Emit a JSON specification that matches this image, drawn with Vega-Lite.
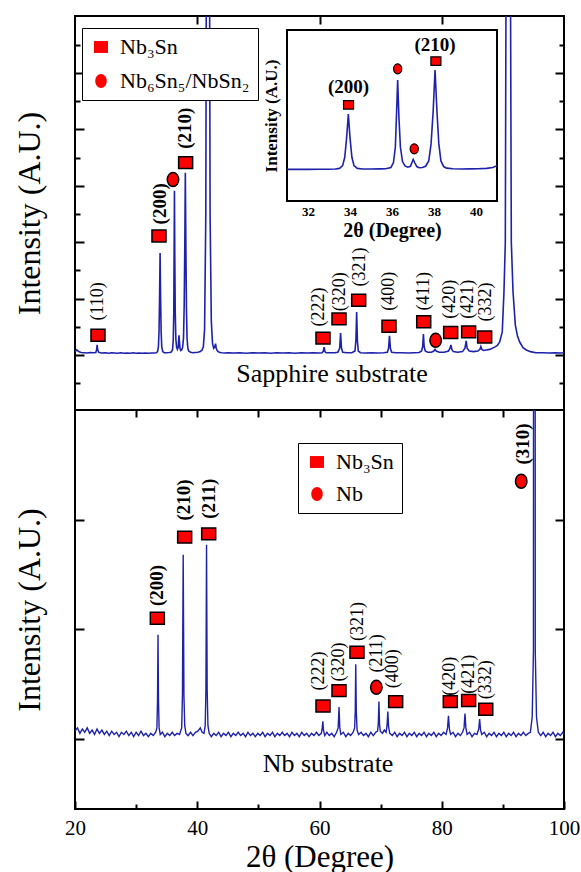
{
"$schema": "https://vega.github.io/schema/vega-lite/v6.json",
"background": "white",
"padding": {"left": 12, "top": 14, "right": 20, "bottom": 5},
"bounds": "flush",
"spacing": 0,
"config": {
  "view": {"stroke": "black", "strokeWidth": 2},
  "axis": {"grid": false, "domain": false, "tickColor": "black", "tickWidth": 2, "labelFont": "Liberation Serif", "titleFont": "Liberation Serif", "labelColor": "black", "titleColor": "black", "titleFontWeight": "normal"},
  "text": {"font": "Liberation Serif", "color": "black"},
  "legend": {"labelFont": "Liberation Serif", "labelColor": "black"}
},
"datasets": {
  "top": [
{"x":20.0,"y":0.06},{"x":20.3,"y":0.09},{"x":20.6,"y":0.06},{"x":21.0,"y":0.045},{"x":21.5,"y":0.04},{"x":22.0,"y":0.035},{"x":22.5,"y":0.045},{"x":23.0,"y":0.04},{"x":23.4,"y":0.045},{"x":23.55,"y":0.10},{"x":23.62,"y":0.18},{"x":23.7,"y":0.10},{"x":23.85,"y":0.05},{"x":24.3,"y":0.035},{"x":25.0,"y":0.04},{"x":25.5,"y":0.03},{"x":26.0,"y":0.04},{"x":26.5,"y":0.035},{"x":27.0,"y":0.03},{"x":27.5,"y":0.04},{"x":28.0,"y":0.03},{"x":28.5,"y":0.035},{"x":29.0,"y":0.03},{"x":29.5,"y":0.04},{"x":30.0,"y":0.03},{"x":30.5,"y":0.035},{"x":31.0,"y":0.03},{"x":31.5,"y":0.035},{"x":32.0,"y":0.03},{"x":32.5,"y":0.035},{"x":33.0,"y":0.035},{"x":33.3,"y":0.04},{"x":33.5,"y":0.06},{"x":33.65,"y":0.15},{"x":33.75,"y":0.42},{"x":33.84,"y":1.05},{"x":33.92,"y":1.81},{"x":34.0,"y":1.05},{"x":34.09,"y":0.42},{"x":34.19,"y":0.15},{"x":34.35,"y":0.06},{"x":34.6,"y":0.04},{"x":35.0,"y":0.04},{"x":35.4,"y":0.045},{"x":35.7,"y":0.05},{"x":35.95,"y":0.09},{"x":36.07,"y":0.25},{"x":36.16,"y":0.75},{"x":36.21,"y":1.7},{"x":36.27,"y":2.91},{"x":36.33,"y":1.7},{"x":36.4,"y":0.75},{"x":36.5,"y":0.28},{"x":36.62,"y":0.14},{"x":36.75,"y":0.10},{"x":36.88,"y":0.13},{"x":36.95,"y":0.25},{"x":37.01,"y":0.35},{"x":37.08,"y":0.25},{"x":37.18,"y":0.12},{"x":37.3,"y":0.08},{"x":37.45,"y":0.09},{"x":37.6,"y":0.13},{"x":37.75,"y":0.30},{"x":37.86,"y":0.85},{"x":37.96,"y":1.9},{"x":38.05,"y":3.23},{"x":38.14,"y":1.9},{"x":38.23,"y":0.85},{"x":38.33,"y":0.30},{"x":38.46,"y":0.12},{"x":38.6,"y":0.07},{"x":38.9,"y":0.05},{"x":39.3,"y":0.04},{"x":39.7,"y":0.045},{"x":40.1,"y":0.05},{"x":40.5,"y":0.06},{"x":40.8,"y":0.09},{"x":41.0,"y":0.15},{"x":41.2,"y":0.45},{"x":41.4,"y":2.5},{"x":41.75,"y":20},{"x":42.1,"y":2.5},{"x":42.3,"y":0.6},{"x":42.5,"y":0.2},{"x":42.7,"y":0.12},{"x":42.85,"y":0.14},{"x":43.0,"y":0.2},{"x":43.1,"y":0.12},{"x":43.3,"y":0.07},{"x":43.6,"y":0.05},{"x":44.0,"y":0.04},{"x":44.5,"y":0.035},{"x":45.0,"y":0.04},{"x":46.0,"y":0.035},{"x":47.0,"y":0.04},{"x":48.0,"y":0.03},{"x":49.0,"y":0.04},{"x":50.0,"y":0.035},{"x":51.0,"y":0.04},{"x":52.0,"y":0.03},{"x":53.0,"y":0.04},{"x":54.0,"y":0.035},{"x":55.0,"y":0.04},{"x":56.0,"y":0.03},{"x":57.0,"y":0.04},{"x":58.0,"y":0.035},{"x":59.0,"y":0.04},{"x":60.0,"y":0.035},{"x":60.4,"y":0.04},{"x":60.6,"y":0.06},{"x":60.75,"y":0.14},{"x":60.9,"y":0.06},{"x":61.1,"y":0.04},{"x":61.8,"y":0.04},{"x":62.5,"y":0.04},{"x":63.0,"y":0.05},{"x":63.3,"y":0.12},{"x":63.45,"y":0.39},{"x":63.6,"y":0.12},{"x":63.8,"y":0.05},{"x":64.5,"y":0.04},{"x":65.3,"y":0.04},{"x":65.8,"y":0.07},{"x":65.95,"y":0.25},{"x":66.08,"y":0.76},{"x":66.2,"y":0.25},{"x":66.35,"y":0.07},{"x":66.7,"y":0.04},{"x":67.5,"y":0.035},{"x":68.5,"y":0.04},{"x":69.5,"y":0.035},{"x":70.5,"y":0.04},{"x":71.1,"y":0.05},{"x":71.3,"y":0.12},{"x":71.45,"y":0.34},{"x":71.6,"y":0.12},{"x":71.8,"y":0.05},{"x":72.5,"y":0.04},{"x":73.5,"y":0.04},{"x":74.5,"y":0.035},{"x":75.5,"y":0.04},{"x":76.3,"y":0.045},{"x":76.7,"y":0.07},{"x":76.88,"y":0.15},{"x":77.0,"y":0.37},{"x":77.12,"y":0.15},{"x":77.3,"y":0.07},{"x":77.7,"y":0.05},{"x":78.3,"y":0.05},{"x":78.7,"y":0.07},{"x":78.9,"y":0.10},{"x":79.1,"y":0.07},{"x":79.6,"y":0.05},{"x":80.4,"y":0.05},{"x":81.1,"y":0.07},{"x":81.35,"y":0.12},{"x":81.5,"y":0.18},{"x":81.65,"y":0.10},{"x":81.9,"y":0.06},{"x":82.6,"y":0.05},{"x":83.4,"y":0.06},{"x":83.8,"y":0.12},{"x":84.0,"y":0.25},{"x":84.15,"y":0.12},{"x":84.5,"y":0.07},{"x":85.2,"y":0.06},{"x":85.9,"y":0.07},{"x":86.25,"y":0.10},{"x":86.4,"y":0.15},{"x":86.55,"y":0.10},{"x":86.8,"y":0.08},{"x":87.3,"y":0.09},{"x":87.84,"y":0.10},{"x":88.66,"y":0.14},{"x":89.1,"y":0.17},{"x":89.48,"y":0.23},{"x":89.9,"y":0.41},{"x":90.18,"y":1.12},{"x":90.4,"y":2.0},{"x":90.85,"y":20},{"x":91.38,"y":2.0},{"x":91.66,"y":1.12},{"x":92.04,"y":0.53},{"x":92.4,"y":0.33},{"x":92.75,"y":0.23},{"x":93.3,"y":0.13},{"x":93.84,"y":0.09},{"x":94.5,"y":0.06},{"x":95.4,"y":0.04},{"x":96.5,"y":0.04},{"x":97.5,"y":0.035},{"x":98.5,"y":0.04},{"x":99.5,"y":0.035},{"x":100.0,"y":0.04}
  ],
  "topMarks": [
{"x":23.76,"y":0.35,"phase":"Nb₃Sn"},{"x":33.74,"y":2.11,"phase":"Nb₃Sn"},{"x":38.1,"y":3.41,"phase":"Nb₃Sn"},{"x":60.57,"y":0.30,"phase":"Nb₃Sn"},{"x":63.19,"y":0.64,"phase":"Nb₃Sn"},{"x":66.41,"y":0.97,"phase":"Nb₃Sn"},{"x":71.37,"y":0.51,"phase":"Nb₃Sn"},{"x":77.05,"y":0.59,"phase":"Nb₃Sn"},{"x":81.46,"y":0.40,"phase":"Nb₃Sn"},{"x":84.4,"y":0.41,"phase":"Nb₃Sn"},{"x":87.02,"y":0.32,"phase":"Nb₃Sn"},
{"x":36.03,"y":3.11,"phase":"Nb₆Sn₅/NbSn₂"},{"x":79.0,"y":0.26,"phase":"Nb₆Sn₅/NbSn₂"}
  ],
  "topLabels": [
{"x":23.76,"y":0.95,"label":"(110)"},{"x":33.85,"y":2.68,"label":"(200)"},{"x":38.05,"y":4.02,"label":"(210)"},{"x":59.9,"y":0.85,"label":"(222)"},{"x":63.3,"y":1.12,"label":"(320)"},{"x":66.68,"y":1.56,"label":"(321)"},{"x":71.37,"y":1.13,"label":"(400)"},{"x":77.1,"y":1.13,"label":"(411)"},{"x":81.3,"y":0.99,"label":"(420)"},{"x":84.3,"y":0.99,"label":"(421)"},{"x":87.2,"y":0.94,"label":"(332)"}
  ],
  "insetMarks": [
{"x":33.93,"y":2.11,"phase":"Nb₃Sn"},{"x":38.09,"y":3.52,"phase":"Nb₃Sn"},{"x":36.27,"y":3.27,"phase":"Nb₆Sn₅/NbSn₂"},{"x":37.06,"y":0.69,"phase":"Nb₆Sn₅/NbSn₂"}
  ],
  "insetLabels": [
{"x":33.93,"y":2.68,"label":"(200)"},{"x":38.05,"y":4.03,"label":"(210)"}
  ],
  "bottom": [
{"x":20.0,"y":0.07},{"x":20.4,"y":0.10},{"x":20.8,"y":0.05},{"x":21.2,"y":0.09},{"x":21.6,"y":0.06},{"x":22.0,"y":0.10},{"x":22.4,"y":0.05},{"x":22.8,"y":0.08},{"x":23.2,"y":0.04},{"x":23.6,"y":0.09},{"x":24.0,"y":0.05},{"x":24.4,"y":0.08},{"x":24.8,"y":0.04},{"x":25.2,"y":0.07},{"x":25.6,"y":0.03},{"x":26.0,"y":0.07},{"x":26.4,"y":0.04},{"x":26.8,"y":0.06},{"x":27.2,"y":0.02},{"x":27.6,"y":0.06},{"x":28.0,"y":0.04},{"x":28.4,"y":0.07},{"x":28.8,"y":0.03},{"x":29.2,"y":0.06},{"x":29.6,"y":0.02},{"x":30.0,"y":0.06},{"x":30.4,"y":0.03},{"x":30.8,"y":0.07},{"x":31.2,"y":0.03},{"x":31.6,"y":0.05},{"x":32.0,"y":0.02},{"x":32.4,"y":0.05},{"x":32.8,"y":0.03},{"x":33.2,"y":0.06},{"x":33.4,"y":0.10},{"x":33.5,"y":0.35},{"x":33.58,"y":0.95},{"x":33.66,"y":0.35},{"x":33.76,"y":0.10},{"x":33.95,"y":0.04},{"x":34.3,"y":0.06},{"x":34.7,"y":0.02},{"x":35.1,"y":0.05},{"x":35.5,"y":0.03},{"x":35.9,"y":0.06},{"x":36.3,"y":0.03},{"x":36.7,"y":0.05},{"x":37.1,"y":0.04},{"x":37.45,"y":0.10},{"x":37.58,"y":0.40},{"x":37.7,"y":1.68},{"x":37.82,"y":0.40},{"x":37.95,"y":0.12},{"x":38.15,"y":0.05},{"x":38.5,"y":0.03},{"x":38.9,"y":0.06},{"x":39.3,"y":0.03},{"x":39.7,"y":0.06},{"x":40.1,"y":0.07},{"x":40.5,"y":0.10},{"x":40.8,"y":0.06},{"x":41.1,"y":0.05},{"x":41.3,"y":0.12},{"x":41.42,"y":0.45},{"x":41.52,"y":1.77},{"x":41.62,"y":0.45},{"x":41.75,"y":0.12},{"x":41.95,"y":0.05},{"x":42.3,"y":0.02},{"x":42.7,"y":0.05},{"x":43.1,"y":0.03},{"x":43.5,"y":0.06},{"x":43.9,"y":0.02},{"x":44.3,"y":0.05},{"x":44.7,"y":0.03},{"x":45.1,"y":0.06},{"x":45.5,"y":0.02},{"x":45.9,"y":0.05},{"x":46.3,"y":0.03},{"x":46.7,"y":0.06},{"x":47.1,"y":0.03},{"x":47.5,"y":0.05},{"x":47.9,"y":0.02},{"x":48.3,"y":0.06},{"x":48.7,"y":0.03},{"x":49.1,"y":0.05},{"x":49.5,"y":0.02},{"x":49.9,"y":0.05},{"x":50.3,"y":0.03},{"x":50.7,"y":0.06},{"x":51.1,"y":0.02},{"x":51.5,"y":0.05},{"x":51.9,"y":0.03},{"x":52.3,"y":0.06},{"x":52.7,"y":0.02},{"x":53.1,"y":0.05},{"x":53.5,"y":0.03},{"x":53.9,"y":0.06},{"x":54.3,"y":0.03},{"x":54.7,"y":0.05},{"x":55.1,"y":0.02},{"x":55.5,"y":0.06},{"x":55.9,"y":0.03},{"x":56.3,"y":0.05},{"x":56.7,"y":0.02},{"x":57.1,"y":0.06},{"x":57.5,"y":0.03},{"x":57.9,"y":0.05},{"x":58.3,"y":0.02},{"x":58.7,"y":0.05},{"x":59.1,"y":0.03},{"x":59.5,"y":0.06},{"x":59.9,"y":0.03},{"x":60.3,"y":0.05},{"x":60.45,"y":0.10},{"x":60.55,"y":0.16},{"x":60.65,"y":0.08},{"x":60.85,"y":0.03},{"x":61.2,"y":0.06},{"x":61.6,"y":0.03},{"x":62.0,"y":0.05},{"x":62.4,"y":0.02},{"x":62.8,"y":0.06},{"x":63.05,"y":0.10},{"x":63.2,"y":0.29},{"x":63.32,"y":0.10},{"x":63.5,"y":0.04},{"x":63.9,"y":0.06},{"x":64.3,"y":0.02},{"x":64.7,"y":0.05},{"x":65.1,"y":0.03},{"x":65.5,"y":0.06},{"x":65.75,"y":0.10},{"x":65.85,"y":0.25},{"x":65.93,"y":0.68},{"x":66.02,"y":0.25},{"x":66.15,"y":0.08},{"x":66.4,"y":0.04},{"x":66.8,"y":0.06},{"x":67.2,"y":0.03},{"x":67.6,"y":0.05},{"x":68.0,"y":0.02},{"x":68.4,"y":0.06},{"x":68.8,"y":0.03},{"x":69.2,"y":0.06},{"x":69.5,"y":0.07},{"x":69.62,"y":0.14},{"x":69.72,"y":0.34},{"x":69.82,"y":0.13},{"x":69.95,"y":0.07},{"x":70.3,"y":0.05},{"x":70.6,"y":0.08},{"x":70.9,"y":0.06},{"x":71.05,"y":0.12},{"x":71.18,"y":0.25},{"x":71.3,"y":0.11},{"x":71.5,"y":0.05},{"x":71.9,"y":0.03},{"x":72.3,"y":0.06},{"x":72.7,"y":0.02},{"x":73.1,"y":0.05},{"x":73.5,"y":0.03},{"x":73.9,"y":0.06},{"x":74.3,"y":0.02},{"x":74.7,"y":0.05},{"x":75.1,"y":0.03},{"x":75.5,"y":0.06},{"x":75.9,"y":0.02},{"x":76.3,"y":0.05},{"x":76.7,"y":0.03},{"x":77.1,"y":0.06},{"x":77.5,"y":0.02},{"x":77.9,"y":0.05},{"x":78.3,"y":0.03},{"x":78.7,"y":0.06},{"x":79.1,"y":0.02},{"x":79.5,"y":0.05},{"x":79.9,"y":0.03},{"x":80.3,"y":0.06},{"x":80.7,"y":0.04},{"x":80.95,"y":0.10},{"x":81.1,"y":0.21},{"x":81.25,"y":0.09},{"x":81.45,"y":0.04},{"x":81.85,"y":0.06},{"x":82.25,"y":0.02},{"x":82.65,"y":0.05},{"x":83.05,"y":0.03},{"x":83.4,"y":0.06},{"x":83.65,"y":0.10},{"x":83.8,"y":0.23},{"x":83.95,"y":0.10},{"x":84.15,"y":0.04},{"x":84.55,"y":0.06},{"x":84.95,"y":0.02},{"x":85.35,"y":0.05},{"x":85.75,"y":0.04},{"x":86.05,"y":0.09},{"x":86.2,"y":0.18},{"x":86.35,"y":0.08},{"x":86.55,"y":0.04},{"x":86.95,"y":0.06},{"x":87.35,"y":0.02},{"x":87.75,"y":0.05},{"x":88.15,"y":0.03},{"x":88.55,"y":0.06},{"x":88.95,"y":0.02},{"x":89.35,"y":0.05},{"x":89.75,"y":0.03},{"x":90.15,"y":0.06},{"x":90.55,"y":0.02},{"x":90.95,"y":0.05},{"x":91.35,"y":0.03},{"x":91.75,"y":0.06},{"x":92.15,"y":0.02},{"x":92.55,"y":0.05},{"x":92.95,"y":0.03},{"x":93.35,"y":0.06},{"x":93.75,"y":0.03},{"x":94.15,"y":0.05},{"x":94.5,"y":0.06},{"x":94.8,"y":0.20},{"x":95.0,"y":0.80},{"x":95.15,"y":30},{"x":95.3,"y":0.80},{"x":95.5,"y":0.20},{"x":95.8,"y":0.06},{"x":96.2,"y":0.03},{"x":96.6,"y":0.06},{"x":97.0,"y":0.02},{"x":97.4,"y":0.05},{"x":97.8,"y":0.03},{"x":98.2,"y":0.06},{"x":98.6,"y":0.02},{"x":99.0,"y":0.05},{"x":99.4,"y":0.03},{"x":99.8,"y":0.06},{"x":100.0,"y":0.04}
  ],
  "bottomMarks": [
{"x":33.47,"y":1.10,"phase":"Nb₃Sn"},{"x":37.94,"y":1.84,"phase":"Nb₃Sn"},{"x":41.87,"y":1.87,"phase":"Nb₃Sn"},{"x":60.57,"y":0.30,"phase":"Nb₃Sn"},{"x":63.19,"y":0.44,"phase":"Nb₃Sn"},{"x":66.13,"y":0.79,"phase":"Nb₃Sn"},{"x":72.46,"y":0.34,"phase":"Nb₃Sn"},{"x":81.4,"y":0.34,"phase":"Nb₃Sn"},{"x":84.4,"y":0.35,"phase":"Nb₃Sn"},{"x":87.2,"y":0.27,"phase":"Nb₃Sn"},
{"x":69.3,"y":0.47,"phase":"Nb"},{"x":93.0,"y":2.35,"phase":"Nb"}
  ],
  "bottomLabels": [
{"x":33.4,"y":1.40,"label":"(200)"},{"x":37.78,"y":2.18,"label":"(210)"},{"x":42.0,"y":2.19,"label":"(211)"},{"x":59.9,"y":0.62,"label":"(222)"},{"x":63.2,"y":0.70,"label":"(320)"},{"x":66.3,"y":1.07,"label":"(321)"},{"x":69.4,"y":0.78,"label":"(211)"},{"x":72.1,"y":0.64,"label":"(400)"},{"x":81.4,"y":0.57,"label":"(420)"},{"x":84.4,"y":0.59,"label":"(421)"},{"x":87.3,"y":0.54,"label":"(332)"},{"x":93.3,"y":2.69,"label":"(310)"}
  ]
},
"resolve": {"scale": {"x": "independent", "y": "independent", "shape": "independent"}, "legend": {"shape": "independent"}},
"vconcat": [
 {
  "width": 489, "height": 394,
  "resolve": {"scale": {"x": "independent", "y": "independent"}, "axis": {"x": "independent", "y": "independent"}},
  "layer": [
   {
    "data": {"name": "top"},
    "mark": {"type": "line", "color": "#1e22aa", "strokeWidth": 1.6, "clip": true},
    "encoding": {
      "x": {"field": "x", "type": "quantitative", "scale": {"domain": [20, 100], "nice": false, "zero": false}, "axis": null},
      "y": {"field": "y", "type": "quantitative", "scale": {"domain": [-0.975, 6.01], "nice": false, "zero": false},
            "axis": {"orient": "left", "values": [0, 1, 2, 3, 4, 5], "tickSize": -9, "labels": false, "title": "Intensity (A.U.)", "titleFontSize": 32, "titlePadding": 28}}
    }
   },
   {
    "data": {"name": "topMarks"},
    "mark": {"type": "point", "filled": true, "fill": "#ff0000", "stroke": "black", "strokeWidth": 1.5, "opacity": 1, "size": 196},
    "encoding": {
      "x": {"field": "x", "type": "quantitative", "scale": {"domain": [20, 100], "nice": false, "zero": false},
            "axis": {"orient": "top", "values": [40, 60, 80], "tickSize": -8, "labels": false, "title": null}},
      "y": {"field": "y", "type": "quantitative", "scale": {"domain": [-0.975, 6.01], "nice": false, "zero": false},
            "axis": {"orient": "right", "values": [0, 1, 2, 3, 4, 5], "tickSize": -9, "labels": false, "title": null}},
      "shape": {"field": "phase", "type": "nominal",
                "scale": {"domain": ["Nb₃Sn", "Nb₆Sn₅/NbSn₂"], "range": ["M-1,-0.85H1V0.85H-1Z", "M0,-1A0.82,1 0 1,1 0,1A0.82,1 0 1,1 0,-1Z"]},
                "legend": {"orient": "none", "legendX": 7, "legendY": 12, "title": null, "labelFontSize": 22, "symbolSize": 196, "symbolFillColor": "#ff0000", "symbolStrokeColor": "black", "symbolStrokeWidth": 1.5, "symbolOpacity": 1, "strokeColor": "black", "fillColor": "white", "padding": 8, "rowPadding": 12, "labelOffset": 8,
                           "encode": {"legend": {"update": {"strokeWidth": {"value": 2}}}}}}
    }
   },
   {
    "data": {"name": "topLabels"},
    "transform": [{"filter": "datum.x < 33 || datum.x > 40"}],
    "mark": {"type": "text", "angle": 270, "align": "center", "baseline": "middle", "fontSize": 18, "font": "Liberation Serif"},
    "encoding": {
      "x": {"field": "x", "type": "quantitative", "scale": {"domain": [20, 100], "nice": false, "zero": false}, "axis": null},
      "y": {"field": "y", "type": "quantitative", "scale": {"domain": [-0.975, 6.01], "nice": false, "zero": false},
            "axis": {"orient": "left", "values": [-0.5, 0.5, 1.5, 2.5, 3.5, 4.5, 5.5], "tickSize": -5, "labels": false, "title": null}},
      "text": {"field": "label"}
    }
   },
   {
    "data": {"name": "topLabels"},
    "transform": [{"filter": "datum.x >= 33 && datum.x <= 40"}],
    "mark": {"type": "text", "angle": 270, "align": "center", "baseline": "middle", "fontSize": 19, "fontWeight": "bold", "font": "Liberation Serif"},
    "encoding": {
      "x": {"field": "x", "type": "quantitative", "scale": {"domain": [20, 100], "nice": false, "zero": false}, "axis": null},
      "y": {"field": "y", "type": "quantitative", "scale": {"domain": [-0.975, 6.01], "nice": false, "zero": false},
            "axis": {"orient": "right", "values": [-0.5, 0.5, 1.5, 2.5, 3.5, 4.5, 5.5], "tickSize": -5, "labels": false, "title": null}},
      "text": {"field": "label"}
    }
   },
   {
    "data": {"values": [{"x": 62.05, "y": -0.34, "label": "Sapphire substrate"}]},
    "mark": {"type": "text", "align": "center", "baseline": "middle", "fontSize": 26, "font": "Liberation Serif"},
    "encoding": {
      "x": {"field": "x", "type": "quantitative", "scale": {"domain": [20, 100], "nice": false, "zero": false}, "axis": null},
      "y": {"field": "y", "type": "quantitative", "scale": {"domain": [-0.975, 6.01], "nice": false, "zero": false}, "axis": null},
      "text": {"field": "label"}
    }
   },
   {
    "data": {"values": [{}]},
    "mark": {"type": "rect", "fill": "white", "stroke": "black", "strokeWidth": 2},
    "encoding": {
      "x": {"datum": 31, "type": "quantitative", "scale": {"domain": [31, 41], "range": [212, 422], "nice": false, "zero": false},
            "axis": {"orient": "bottom", "offset": -209, "values": [32, 34, 36, 38, 40], "tickSize": -5, "labelFontSize": 13, "labelFontWeight": "bold", "labelPadding": 9, "title": "2θ (Degree)", "titleFontSize": 20, "titleFontWeight": "bold", "titlePadding": 2}},
      "x2": {"datum": 41},
      "y": {"datum": -0.99, "type": "quantitative", "scale": {"domain": [-0.99, 4.52], "range": [185, 14], "nice": false, "zero": false},
            "axis": {"orient": "left", "offset": -212, "values": [0, 1, 2, 3, 4], "tickSize": -5, "labels": false, "title": "Intensity (A.U.)", "titleFontSize": 17, "titleFontWeight": "bold", "titlePadding": 6}},
      "y2": {"datum": 4.52}
    }
   },
   {
    "data": {"name": "top"},
    "transform": [{"filter": "datum.x >= 31 && datum.x <= 41"}],
    "mark": {"type": "line", "color": "#1e22aa", "strokeWidth": 1.6},
    "encoding": {
      "x": {"field": "x", "type": "quantitative", "scale": {"domain": [31, 41], "range": [212, 422], "nice": false, "zero": false}, "axis": null},
      "y": {"field": "y", "type": "quantitative", "scale": {"domain": [-0.99, 4.52], "range": [185, 14], "nice": false, "zero": false}, "axis": null}
    }
   },
   {
    "data": {"name": "insetMarks"},
    "mark": {"type": "point", "filled": true, "fill": "#ff0000", "stroke": "black", "strokeWidth": 1.2, "opacity": 1, "size": 100},
    "encoding": {
      "x": {"field": "x", "type": "quantitative", "scale": {"domain": [31, 41], "range": [212, 422], "nice": false, "zero": false}, "axis": null},
      "y": {"field": "y", "type": "quantitative", "scale": {"domain": [-0.99, 4.52], "range": [185, 14], "nice": false, "zero": false}, "axis": null},
      "shape": {"field": "phase", "type": "nominal", "legend": null}
    }
   },
   {
    "data": {"name": "insetLabels"},
    "mark": {"type": "text", "align": "center", "baseline": "middle", "fontSize": 19, "fontWeight": "bold", "font": "Liberation Serif"},
    "encoding": {
      "x": {"field": "x", "type": "quantitative", "scale": {"domain": [31, 41], "range": [212, 422], "nice": false, "zero": false}, "axis": null},
      "y": {"field": "y", "type": "quantitative", "scale": {"domain": [-0.99, 4.52], "range": [185, 14], "nice": false, "zero": false}, "axis": null},
      "text": {"field": "label"}
    }
   }
  ]
 },
 {
  "width": 489, "height": 399,
  "resolve": {"scale": {"x": "independent", "y": "independent"}, "axis": {"x": "independent", "y": "independent"}},
  "layer": [
   {
    "data": {"name": "bottom"},
    "mark": {"type": "line", "color": "#1e22aa", "strokeWidth": 1.4, "clip": true},
    "encoding": {
      "x": {"field": "x", "type": "quantitative", "scale": {"domain": [20, 100], "nice": false, "zero": false},
            "axis": {"orient": "bottom", "values": [20, 40, 60, 80, 100], "tickSize": -8, "labelFontSize": 21, "labelPadding": 16, "labelFlush": false, "title": "2θ (Degree)", "titleFontSize": 31, "titlePadding": 4}},
      "y": {"field": "y", "type": "quantitative", "scale": {"domain": [-0.64, 3.0], "nice": false, "zero": false},
            "axis": {"orient": "left", "values": [0, 1, 2], "tickSize": -9, "labels": false, "title": "Intensity (A.U.)", "titleFontSize": 32, "titlePadding": 28}}
    }
   },
   {
    "data": {"name": "bottomMarks"},
    "mark": {"type": "point", "filled": true, "fill": "#ff0000", "stroke": "black", "strokeWidth": 1.5, "opacity": 1, "size": 196},
    "encoding": {
      "x": {"field": "x", "type": "quantitative", "scale": {"domain": [20, 100], "nice": false, "zero": false},
            "axis": {"orient": "top", "values": [30, 40, 50, 60, 70, 80, 90], "tickSize": -7, "labels": false, "title": null}},
      "y": {"field": "y", "type": "quantitative", "scale": {"domain": [-0.64, 3.0], "nice": false, "zero": false},
            "axis": {"orient": "right", "values": [0, 1, 2], "tickSize": -9, "labels": false, "title": null}},
      "shape": {"field": "phase", "type": "nominal",
                "scale": {"domain": ["Nb₃Sn", "Nb"], "range": ["M-1,-0.85H1V0.85H-1Z", "M0,-1A0.82,1 0 1,1 0,1A0.82,1 0 1,1 0,-1Z"]},
                "legend": {"orient": "none", "legendX": 223, "legendY": 33, "title": null, "labelFontSize": 22, "symbolSize": 196, "symbolFillColor": "#ff0000", "symbolStrokeColor": "black", "symbolStrokeWidth": 1.5, "symbolOpacity": 1, "strokeColor": "black", "fillColor": "white", "padding": 8, "rowPadding": 10, "labelOffset": 8,
                           "encode": {"legend": {"update": {"strokeWidth": {"value": 2}}}}}}
    }
   },
   {
    "data": {"name": "bottomLabels"},
    "transform": [{"filter": "datum.x > 50 && datum.x < 90"}],
    "mark": {"type": "text", "angle": 270, "align": "center", "baseline": "middle", "fontSize": 18, "font": "Liberation Serif"},
    "encoding": {
      "x": {"field": "x", "type": "quantitative", "scale": {"domain": [20, 100], "nice": false, "zero": false},
            "axis": {"orient": "bottom", "values": [30, 50, 70, 90], "tickSize": -5, "labels": false, "title": null}},
      "y": {"field": "y", "type": "quantitative", "scale": {"domain": [-0.64, 3.0], "nice": false, "zero": false}, "axis": null},
      "text": {"field": "label"}
    }
   },
   {
    "data": {"name": "bottomLabels"},
    "transform": [{"filter": "datum.x <= 50 || datum.x >= 90"}],
    "mark": {"type": "text", "angle": 270, "align": "center", "baseline": "middle", "fontSize": 19, "fontWeight": "bold", "font": "Liberation Serif"},
    "encoding": {
      "x": {"field": "x", "type": "quantitative", "scale": {"domain": [20, 100], "nice": false, "zero": false}, "axis": null},
      "y": {"field": "y", "type": "quantitative", "scale": {"domain": [-0.64, 3.0], "nice": false, "zero": false}, "axis": null},
      "text": {"field": "label"}
    }
   },
   {
    "data": {"values": [{"x": 61.4, "y": -0.23, "label": "Nb substrate"}]},
    "mark": {"type": "text", "align": "center", "baseline": "middle", "fontSize": 26, "font": "Liberation Serif"},
    "encoding": {
      "x": {"field": "x", "type": "quantitative", "scale": {"domain": [20, 100], "nice": false, "zero": false}, "axis": null},
      "y": {"field": "y", "type": "quantitative", "scale": {"domain": [-0.64, 3.0], "nice": false, "zero": false}, "axis": null},
      "text": {"field": "label"}
    }
   }
  ]
 }
]
}
